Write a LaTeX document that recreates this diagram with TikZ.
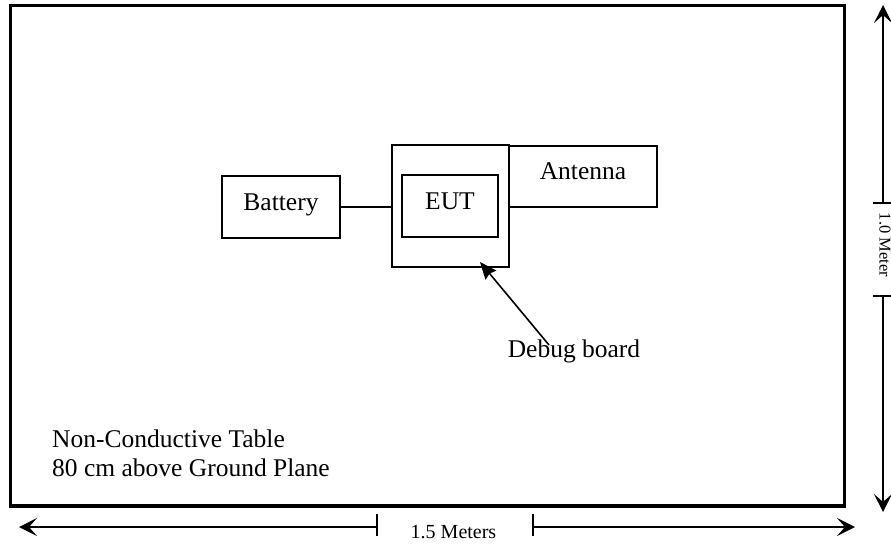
\documentclass[tikz,border=0pt]{standalone}
\usepackage{fontspec}
\setmainfont{Liberation Serif}
\usetikzlibrary{arrows.meta}
\begin{document}
\begin{tikzpicture}[x=1pt,y=-1pt,
  boxnode/.style={draw,line width=1.6pt,inner sep=0pt,font=\fontsize{25.5}{29}\selectfont,text height=0.66em,text depth=0pt},
  lbl/.style={inner sep=0pt,font=\fontsize{25.5}{29}\selectfont},
  dimlbl/.style={inner sep=0pt,font=\fontsize{20}{24}\selectfont},
  dimarrow/.style={line width=1.4pt,-{Stealth[length=18pt,width=18pt,inset=8pt]}},
  dimtick/.style={line width=1.4pt},
  ptr/.style={line width=1.6pt,-{Stealth[length=17pt,width=14pt,inset=2pt]}}]
\useasboundingbox (0,0) rectangle (891,546);
% table outline
\node[draw,line width=3.5pt,minimum width=834pt,minimum height=500.5pt,inner sep=0pt] (table) at (427.5,255.75) {};
% boxes
\node[boxnode,minimum width=117pt,minimum height=122pt] (debug) at (450.5,206) {};
\node[boxnode,minimum width=96pt,minimum height=62pt] (eut) at (450,206) {};
\node[lbl,anchor=base] (euttext) at (450,209) {EUT};
\node[boxnode,minimum width=148pt,minimum height=61pt] (antenna) at (583,176.5) {Antenna};
\node[boxnode,minimum width=118pt,minimum height=62pt] (battery) at (281,207) {Battery};
\draw[line width=1.6pt] (battery.east) -- (debug.west |- battery.east);
% debug board pointer
\coordinate (dbtail) at (549,345);
\coordinate (dbtip) at (480,262);
\draw[ptr] (dbtail) -- (dbtip);
\node[lbl,anchor=base] (dblabel) at (574,357) {Debug board};
% table text
\node[lbl,anchor=base west] (t1) at (52,447) {Non-Conductive Table};
\node[lbl,anchor=base west] (t2) at (52,476) {80 cm above Ground Plane};
% bottom dimension
\coordinate (dimL) at (19,527);
\coordinate (tickL) at (377,527);
\coordinate (tickR) at (533,527);
\coordinate (dimR) at (855,527);
\draw[dimarrow] (tickL) -- (dimL);
\draw[dimarrow] (tickR) -- (dimR);
\draw[dimtick] ([yshift=-9pt]tickL) -- ([yshift=13pt]tickL);
\draw[dimtick] ([yshift=-9pt]tickR) -- ([yshift=13pt]tickR);
\node[dimlbl,anchor=base] (w) at (453.5,538) {1.5 Meters};
% right dimension
\coordinate (dimT) at (883,5);
\coordinate (tickT) at (883,203);
\coordinate (tickB) at (883,296);
\coordinate (dimB) at (883,512);
\draw[dimarrow] (tickT) -- (dimT);
\draw[dimarrow] (tickB) -- (dimB);
\draw[dimtick] ([xshift=-10pt]tickT) -- ([xshift=8pt]tickT);
\draw[dimtick] ([xshift=-10pt]tickB) -- ([xshift=8pt]tickB);
\node[inner sep=0pt,font=\fontsize{16.5}{20}\selectfont,rotate=-90,anchor=base] (h) at (879.5,245) {1.0 Meter};
\end{tikzpicture}
\end{document}
